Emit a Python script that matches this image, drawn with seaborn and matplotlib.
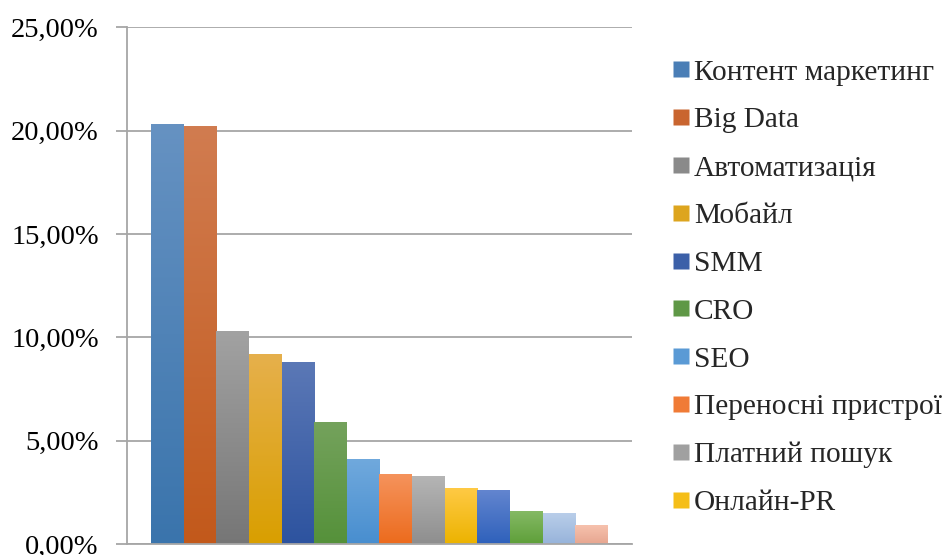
import numpy as np
import pandas as pd
import matplotlib
matplotlib.use("Agg")
import matplotlib.pyplot as plt
from matplotlib.colors import LinearSegmentedColormap
from matplotlib.lines import Line2D
import seaborn as sns

categories = ["Контент маркетинг", "Big Data", "Автоматизація", "Мобайл", "SMM", "CRO",
              "SEO", "Переносні пристрої", "Платний пошук", "Онлайн-PR",
              "Категорія 11", "Категорія 12", "Категорія 13", "Категорія 14"]
values = [20.31, 20.21, 10.30, 9.19, 8.80, 5.90, 4.11, 3.38, 3.29, 2.71, 2.61, 1.60, 1.50, 0.92]
legend_count = 10

top_colors = ["#6692C2", "#D17C50", "#A2A2A2", "#E6B04C", "#5B78B6", "#74A25C", "#70A9DD",
              "#F5935C", "#B5B5B5", "#FFCA46", "#6385CF", "#86BA66", "#BACFEA", "#F7C3AF"]
bot_colors = ["#3A74AC", "#C2591B", "#767676", "#D99F00", "#2D539F", "#55913A", "#488ECF",
              "#EC6B1D", "#8E8E8E", "#ECB300", "#2E61BB", "#5E9F39", "#97B3DA", "#E7A690"]
mid_colors = ["#4A7EB6", "#C9652F", "#8A8A8A", "#DDA51E", "#3C60A8", "#5F9846", "#5A9AD5",
              "#F07B36", "#A0A0A0", "#F5BE18", "#4571C4", "#6BAB4C", "#A8C1E1", "#EFB39E"]

sns.set_theme(style="white")
plt.rcParams['font.family'] = ['Liberation Serif', 'DejaVu Serif']

fig = plt.figure(figsize=(9.45, 5.55), dpi=100)
ax = fig.add_axes([0.134, 0.0198, 0.535, 0.931])

df = pd.DataFrame({"cat": categories, "val": values})
sns.barplot(data=df, x="cat", y="val", hue="cat", palette=mid_colors, dodge=False,
            width=1.0, legend=False, ax=ax, saturation=1)

for i, p in enumerate(ax.patches):
    x0, y0 = p.get_x(), p.get_y()
    w, h = p.get_width(), p.get_height()
    cmap = LinearSegmentedColormap.from_list(f"g{i}", [bot_colors[i], top_colors[i]])
    grad = np.linspace(0, 1, 256).reshape(-1, 1)
    im = ax.imshow(grad, cmap=cmap, aspect="auto", origin="lower",
                   extent=[x0, x0 + w, y0, y0 + h], zorder=p.get_zorder() + 0.1)
    im.set_clip_path(p)
    p.set_edgecolor("none")

ax.set_xlim(-1.25, 14.25)
ax.set_ylim(0, 25)
ax.set_yticks([0, 5, 10, 15, 20, 25])
ax.set_yticklabels([f"{v:.2f}%".replace(".", ",") for v in [0, 5, 10, 15, 20, 25]],
                   fontsize=20.5, color="black")
ax.set_xticks([])
ax.set_xlabel("")
ax.set_ylabel("")
ax.yaxis.grid(True, color="#A6A6A6", linewidth=1.3)
ax.set_axisbelow(True)
for s in ["top", "right"]:
    ax.spines[s].set_visible(False)
ax.spines["left"].set_color("#A6A6A6")
ax.spines["bottom"].set_color("#A6A6A6")
ax.spines["left"].set_linewidth(1.3)
ax.spines["bottom"].set_linewidth(1.3)
ax.tick_params(axis="y", direction="out", length=8, width=1.3, color="#A6A6A6", pad=12, left=True)

handles = [Line2D([0], [0], marker="s", linestyle="none", markersize=11,
                  markerfacecolor=mid_colors[i], markeredgecolor="none")
           for i in range(legend_count)]
fig.legend(handles, categories[:legend_count], loc="center left",
           bbox_to_anchor=(0.711, 0.482), frameon=False, fontsize=21.2,
           handletextpad=0.15, labelspacing=0.72, handlelength=0.6, borderaxespad=0,
           borderpad=0)

fig.savefig("out.png", dpi=100)
